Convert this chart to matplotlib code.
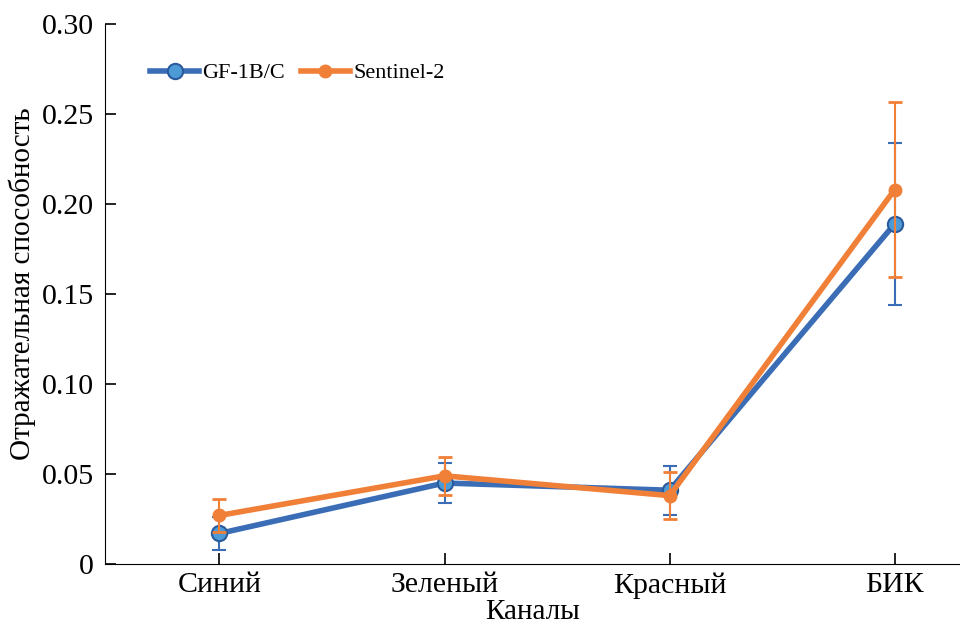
import numpy as np
import matplotlib.pyplot as plt
from matplotlib.ticker import FuncFormatter
from matplotlib.lines import Line2D

# channels and mean reflectance with std
channels = ['Синий', 'Зеленый', 'Красный', 'БИК']
gf_mean = [0.017, 0.045, 0.041, 0.189]
gf_err = [0.009, 0.011, 0.0135, 0.045]
s2_mean = [0.027, 0.049, 0.038, 0.208]
s2_err = [0.009, 0.0105, 0.013, 0.0485]

plt.rcParams['font.family'] = ['Liberation Serif', 'DejaVu Serif']

fig = plt.figure(figsize=(9.6, 6.26), dpi=100)
ax = fig.add_axes([0.109, 0.099, 0.891, 0.8626])

x = np.arange(len(channels))

gf_style = dict(color='#3a6db5', lw=4, marker='o', ms=11, mfc='#4d9bd6',
                mec='#2a5a9c', mew=1.5)
s2_style = dict(color='#f07f37', lw=4, marker='o', ms=9, mfc='#f07f37',
                mec='#f07f37')

ax.errorbar(x, gf_mean, yerr=gf_err, ecolor='#3a6db5', elinewidth=1.5,
            capsize=5, capthick=2, zorder=2, **gf_style)
ax.errorbar(x, s2_mean, yerr=s2_err, ecolor='#f07f37', elinewidth=1.5,
            capsize=5, capthick=2, zorder=3, **s2_style)

ax.set_xlim(-0.51, 3.29)
ax.set_ylim(0, 0.30)
ax.set_yticks([0, 0.05, 0.10, 0.15, 0.20, 0.25, 0.30])
ax.yaxis.set_major_formatter(FuncFormatter(lambda v, p: '0' if v == 0 else '%.2f' % v))
ax.set_xticks(x)
ax.set_xticklabels(channels)

ax.spines['top'].set_visible(False)
ax.spines['right'].set_visible(False)
ax.tick_params(direction='in', length=8, width=1.2, labelsize=21.5, pad=6)
ax.tick_params(axis='y', pad=8)

ax.set_xlabel('Каналы', fontsize=21)
ax.xaxis.set_label_coords(0.5, -0.064)
ax.set_ylabel('Отражательная способность', fontsize=21)
ax.yaxis.set_label_coords(-0.08, 0.52)

handles = [Line2D([], [], **gf_style), Line2D([], [], **s2_style)]
ax.legend(handles, ['GF-1B/C', 'Sentinel-2'], loc='upper left',
          bbox_to_anchor=(0.03, 0.965), frameon=False, ncol=2, fontsize=16,
          handlelength=2.2, handletextpad=0.15, columnspacing=0.7)

plt.savefig('out.png', dpi=100)
